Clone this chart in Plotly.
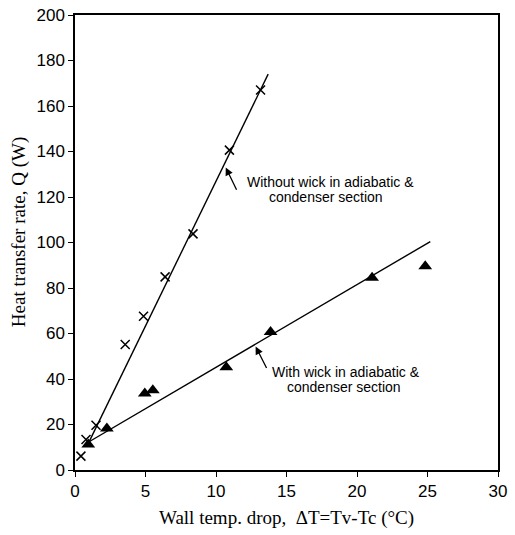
import plotly.graph_objects as go

# Data
without_x = [0.42, 0.78, 1.49, 3.56, 4.86, 6.39, 8.37, 10.95, 13.16]
without_q = [6.1, 13.4, 19.7, 55.2, 67.6, 84.9, 103.8, 140.6, 167.0]
with_x = [0.94, 2.26, 4.95, 5.52, 10.73, 13.87, 21.07, 24.84]
with_q = [11.2, 18.2, 33.6, 35.1, 45.2, 60.7, 84.5, 89.6]
fit_without_x = [0.85, 13.7]
fit_without_q = [10.5, 174.0]
fit_with_x = [0.94, 25.2]
fit_with_q = [12.2, 100.4]
x_ticks = [0, 5, 10, 15, 20, 25, 30]
y_ticks = [0, 20, 40, 60, 80, 100, 120, 140, 160, 180, 200]

fig = go.Figure()
fig.add_trace(go.Scatter(x=fit_without_x, y=fit_without_q, mode="lines",
                         line=dict(color="black", width=1.4), showlegend=False))
fig.add_trace(go.Scatter(x=fit_with_x, y=fit_with_q, mode="lines",
                         line=dict(color="black", width=1.4), showlegend=False))
fig.add_trace(go.Scatter(x=without_x, y=without_q, mode="markers",
                         marker=dict(symbol="x-thin", size=9, color="black",
                                     line=dict(color="black", width=1.5)),
                         showlegend=False))
fig.add_trace(go.Scatter(x=with_x, y=with_q, mode="markers",
                         marker=dict(symbol="triangle-up", size=12, color="black"),
                         showlegend=False))

txt_font = dict(family="Liberation Sans", size=14, color="black")
annotations = [
    dict(x=10.69, y=133.0, ax=11.51, ay=122.5, xref="x", yref="y", axref="x", ayref="y",
         text="", showarrow=True, arrowhead=2, arrowsize=1.2, arrowwidth=1.3, arrowcolor="black"),
    dict(x=12.81, y=54.3, ax=13.64, ay=44.2, xref="x", yref="y", axref="x", ayref="y",
         text="", showarrow=True, arrowhead=2, arrowsize=1.2, arrowwidth=1.3, arrowcolor="black"),
    dict(x=18.12, y=126.4, xref="x", yref="y", text="Without wick in adiabatic &",
         showarrow=False, font=txt_font),
    dict(x=17.83, y=120.2, xref="x", yref="y", text="condenser section",
         showarrow=False, font=txt_font),
    dict(x=19.2, y=42.9, xref="x", yref="y", text="With wick in adiabatic &",
         showarrow=False, font=txt_font),
    dict(x=19.07, y=36.3, xref="x", yref="y", text="condenser section",
         showarrow=False, font=txt_font),
    # axis titles
    dict(x=0.5, y=-0.105, xref="paper", yref="paper", showarrow=False,
         xanchor="center", yanchor="middle",
         text="Wall temp. drop,  \u0394T=Tv-Tc (\u00b0C)",
         font=dict(family="Liberation Serif", size=19, color="black")),
    dict(x=-0.132, y=0.523, xref="paper", yref="paper", showarrow=False, textangle=-90,
         xanchor="center", yanchor="middle",
         text="Heat transfer rate, Q (W)",
         font=dict(family="Liberation Serif", size=19, color="black")),
]

axis_common = dict(showgrid=False, zeroline=False, showline=True, linecolor="black",
                   linewidth=1.5, mirror=True, ticks="outside", ticklen=5,
                   tickwidth=1.3, tickcolor="black", automargin=False,
                   tickfont=dict(family="Liberation Sans", size=17, color="black"))

fig.update_layout(
    width=515, height=535,
    margin=dict(l=75, r=17, t=15, b=65),
    paper_bgcolor="white", plot_bgcolor="white",
    annotations=annotations,
    xaxis=dict(range=[0, 30], tickvals=x_ticks, **axis_common),
    yaxis=dict(range=[0, 200], tickvals=y_ticks, **axis_common),
)

fig.write_html("out.html", config={"displayModeBar": False},
               post_script="document.body.style.margin='0';")
